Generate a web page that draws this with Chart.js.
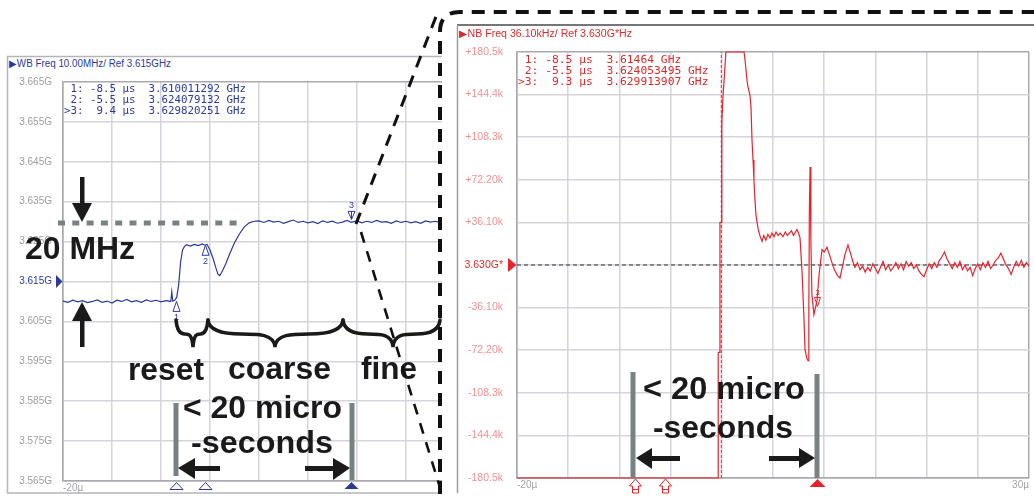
<!DOCTYPE html>
<html>
<head>
<meta charset="utf-8">
<script src="https://cdn.jsdelivr.net/npm/chart.js@4.4.1/dist/chart.umd.min.js"></script>
<style>
html, body { margin: 0; padding: 0; background: #fff; }
#stage { position: relative; width: 1034px; height: 502px; overflow: hidden; background: #fff; }
#stage > * { position: absolute; left: 0; top: 0; }
.big { font-family: "Liberation Sans", Arial, sans-serif; font-weight: bold; font-size: 32px; fill: #1a1a1a; }
.mono { font-family: "DejaVu Sans Mono", monospace; white-space: pre; }
.hdr { font-family: "Liberation Sans", Arial, sans-serif; font-size: 10px; }
</style>
</head>
<body>
<div id="stage">
  <svg width="1034" height="502">
    <rect x="7.5" y="56.5" width="600" height="436.5" fill="none" stroke="#b4b4bc" stroke-width="1.5"/>
    <text class="hdr" x="9" y="67" fill="#2a3a9c" textLength="162" lengthAdjust="spacingAndGlyphs">▶WB Freq 10.00MHz/ Ref 3.615GHz</text>
  </svg>
  <canvas id="wb" width="556" height="502" style="width:556px;height:502px"></canvas>
  <svg width="1034" height="502">
    <text class="mono" x="64" y="92" font-size="10.8" fill="#2a3a9c"> 1: -8.5 µs  3.610011292 GHz</text>
    <text class="mono" x="64" y="103" font-size="10.8" fill="#2a3a9c"> 2: -5.5 µs  3.624079132 GHz</text>
    <text class="mono" x="64" y="114" font-size="10.8" fill="#2a3a9c">>3:  9.4 µs  3.629820251 GHz</text>
  </svg>
  <div style="left:442px;width:592px;height:502px;background:#fff"></div>
  <svg width="1034" height="502">
    <line x1="457" y1="25" x2="1034" y2="25" stroke="#767676" stroke-width="2"/>
    <line x1="457.5" y1="25" x2="457.5" y2="493" stroke="#9a9aa2" stroke-width="1.5"/>
    <text class="hdr" x="459" y="37" fill="#e02828" textLength="173" lengthAdjust="spacingAndGlyphs">▶NB Freq 36.10kHz/ Ref 3.630G*Hz</text>
  </svg>
  <canvas id="nb" width="574" height="502" style="left:460px;width:574px;height:502px"></canvas>
  <svg width="1034" height="502">
    <text class="mono" x="518" y="63" font-size="11.3" fill="#e02828"> 1: -8.5 µs  3.61464 GHz</text>
    <text class="mono" x="518" y="74" font-size="11.3" fill="#e02828"> 2: -5.5 µs  3.624053495 GHz</text>
    <text class="mono" x="518" y="85" font-size="11.3" fill="#e02828">>3:  9.3 µs  3.629913907 GHz</text>
  </svg>
  <svg id="overlay" width="1034" height="502"></svg>
</div>
<script>
// ---- wide-band panel: time (µs) vs frequency (MHz)
const WB_T = [
  -20, -19.5, -19, -18.5, -18, -17.5, -17, -16.5, -16, -15.5, -15, -14.5,
  -14, -13.5, -13, -12.5, -12, -11.5, -11, -10.5, -10, -9.5, -9.0,
  -8.9, -8.8, -8.6, -8.4, -8.2, -8.0, -7.8, -7.6, -7.4, -7.0, -6.6, -6.2, -5.8, -5.5,
  -5.3, -5.0, -4.7, -4.4, -4.2, -4.0, -3.8, -3.4, -3.0, -2.5, -2.0, -1.5, -1.0, -0.5,
  0, 0.5, 1, 1.5, 2, 2.5, 3, 3.5, 4, 4.5, 5, 5.5, 6, 6.5,
  7, 7.5, 8, 8.5, 9, 9.4, 10, 10.5, 11, 11.5, 12, 12.5, 13, 13.5,
  14, 14.5, 15, 15.5, 16, 16.5, 17, 17.5, 18, 18.5, 19, 19.5, 20
];
const WB_F = [
  3610.1, 3609.8, 3610.3, 3609.9, 3610.2, 3609.7, 3610.0, 3610.4, 3609.8, 3610.1, 3609.6, 3610.3,
  3610.0, 3610.5, 3609.9, 3610.2, 3609.8, 3610.4, 3610.0, 3610.3, 3609.9, 3610.2, 3610.0,
  3612.4, 3610.1, 3610.3, 3611.0, 3614.1, 3619.9, 3622.9, 3623.8, 3624.2, 3623.9, 3624.3, 3624.0, 3624.4, 3624.1,
  3624.3, 3622.9, 3620.9, 3618.4, 3616.9, 3616.5, 3617.3, 3619.4, 3621.9, 3624.7, 3626.9, 3628.7, 3629.7, 3630.1,
  3630.2, 3629.8, 3630.3, 3629.9, 3630.1, 3629.6, 3630.0, 3630.4, 3629.8, 3630.1, 3629.7, 3630.0, 3629.5, 3630.2,
  3629.8, 3630.1, 3629.6, 3629.9, 3630.3, 3629.8, 3630.2, 3629.7, 3630.1, 3629.8, 3630.3, 3629.9, 3630.0, 3629.6,
  3630.2, 3629.8, 3630.1, 3629.7, 3630.0, 3629.6, 3630.2, 3629.9, 3630.1, 3629.7, 3630.0, 3629.8, 3630.1
];
const WB_MARKER_T = [-8.5, -5.5, 9.4];
const WB_MARKER_F = [3610.011292, 3624.079132, 3629.820251];
const WB_REF = 3615;
const WB_Y_LABELS = ['3.565G', '3.575G', '3.585G', '3.595G', '3.605G', '3.615G', '3.625G', '3.635G', '3.645G', '3.655G', '3.665G'];

// ---- narrow-band panel: time (µs) vs offset from 3.630 GHz (kHz)
const NB_T = [
  -20, -0.37, -0.35, -0.2, -0.18, -0.05, 0.0, 0.1, 0.4, 2.17,
  2.27, 2.46, 2.56, 2.75, 2.85, 2.95, 3.05, 3.14, 3.24, 3.34, 3.54,
  3.75, 3.93, 4.1, 4.3, 4.5, 4.71, 4.9, 5.1, 5.3, 5.5, 5.7, 5.98,
  6.2, 6.4, 6.6, 6.8, 7.0, 7.2, 7.34, 7.5, 7.64,
  7.83, 8.0, 8.13, 8.3, 8.42, 8.5, 8.55, 8.62, 8.7, 8.8, 9.0, 9.1, 9.3, 9.5,
  9.79, 10.0, 10.27, 10.5, 10.76, 11.0, 11.3, 11.54, 11.8, 12.0, 12.32, 12.6, 12.8, 13.0,
  13.25, 13.5, 13.75, 14.0, 14.25, 14.5, 14.75, 15.0, 15.25, 15.5, 15.75, 16.0,
  16.25, 16.5, 16.75, 17.0, 17.25, 17.5, 17.75, 18.0, 18.25, 18.5, 18.75, 19.0,
  19.25, 19.5, 19.75, 20.0, 20.25, 20.5, 20.75, 21.0, 21.25, 21.5, 21.75, 22.0,
  22.25, 22.5, 22.75, 23.0, 23.25, 23.5, 23.75, 24.0, 24.25, 24.5, 24.75, 25.0,
  25.25, 25.5, 25.75, 26.0, 26.25, 26.5, 26.75, 27.0, 27.25, 27.5, 27.75, 28.0,
  28.25, 28.5, 28.75, 29.0, 29.25, 29.5, 29.75, 30.0
];
const NB_V = [
  -180.5, -180.5, -74, -74, 36, 36, 120, 140, 180.5, 180.5,
  173.7, 156.8, 150.8, 144, 134, 106, 89, 72, 55, 42, 31,
  24, 20, 25, 21, 26, 23, 27, 24, 28, 25, 27, 24,
  28, 25, 27, 29, 25, 28, 30, 27, 23,
  -5, -40, -72, -79, -81, -40, 45, 83, 20, -25, -42, -38, -30, -8,
  13, 11, 15, 9, 2, -4, -9, -11, -1, 8, 17, 9, 3, -2,
  2, -4, -1, -6, -2, -5, 1, -3, -7, -2, 3, -4,
  0, -5, -2, 2, -3, 1, -4, 3, -1, 2, -3, 0,
  -5, -8, -10, -4, 1, -3, 2, -2, 4, 7, 11, 5,
  1, -3, 2, -2, 3, -4, 0, -5, -2, -9, -3, 1,
  -4, 2, -2, 3, -3, 0, 4, 6, 10, 5, 0, -3,
  -8, -2, 3, -1, 4, -2, 2, -1
];
const NB_EDGE_T = [-0.05, -0.05];
const NB_EDGE_V = [-180.5, 180.5];
const NB_REF_T = [-20, 30];
const NB_REF_V = [0, 0];
const NB_MARKER_T = [-8.5, -5.5, 9.3];
const NB_Y_LABELS = ['-180.5k', '-144.4k', '-108.3k', '-72.20k', '-36.10k', '3.630G*', '+36.10k', '+72.20k', '+108.3k', '+144.4k', '+180.5k'];

const X_LABELS = ['-20µ', '', '', '', '', '', '', '', '', '', '30µ'];

const BLUE = '#2a3a9c', RED = '#e8222a';
const GRID = '#d4d4dc', EDGE = '#a9a9b1';

Chart.defaults.font.family = '"Liberation Sans", Arial, sans-serif';

function pts(ts, vs) { return ts.map((t, i) => ({ x: t, y: vs[i] })); }
function gridColor(c) { return (c.index === 0 || c.index === 10) ? EDGE : GRID; }

function tri(ctx, x, yApex, w, h, fill) {
  ctx.beginPath();
  ctx.moveTo(x, yApex);
  ctx.lineTo(x - w / 2, yApex + h);
  ctx.lineTo(x + w / 2, yApex + h);
  ctx.closePath();
  if (fill) ctx.fill(); else ctx.stroke();
}

function xScale(fixedHeight) {
  return {
    type: 'linear', min: -20, max: 30,
    ticks: { stepSize: 5, autoSkip: false, maxRotation: 0, align: 'inner', padding: 1,
             color: '#a4a4a4', font: { size: 10 }, callback: (v, i) => X_LABELS[i] },
    grid: { color: gridColor, lineWidth: 1.5, drawTicks: false },
    border: { color: EDGE, width: 1.5 },
    afterFit(s) { s.height = fixedHeight; }
  };
}

const wbMarkers = {
  id: 'wbMarkers',
  afterDraw(chart) {
    const { ctx, chartArea: a, scales: { x, y } } = chart;
    ctx.save();
    ctx.strokeStyle = BLUE; ctx.fillStyle = BLUE; ctx.lineWidth = 1;
    ctx.font = '9px "Liberation Sans"'; ctx.textAlign = 'center'; ctx.textBaseline = 'middle';
    WB_MARKER_T.forEach((t, i) => {
      const px = Math.round(x.getPixelForValue(t)) + 0.5;
      const py = y.getPixelForValue(WB_MARKER_F[i]);
      if (i < WB_MARKER_T.length - 1) {
        tri(ctx, px, py, 7, 10, false);
        ctx.fillText(String(i + 1), px, py + 16);
        tri(ctx, px, a.bottom + 1.5, 13, 7, false);
      } else {
        tri(ctx, px, py - 3, 7, -8, false);
        ctx.beginPath(); ctx.moveTo(px, py - 3); ctx.lineTo(px, py - 11); ctx.stroke();
        ctx.fillText(String(i + 1), px, py - 17);
        tri(ctx, px, a.bottom + 1, 14, 7, true);
      }
    });
    const ry = y.getPixelForValue(WB_REF);
    ctx.beginPath();
    ctx.moveTo(a.left - 7, ry - 6.5); ctx.lineTo(a.left - 0.5, ry); ctx.lineTo(a.left - 7, ry + 6.5);
    ctx.closePath(); ctx.fill();
    ctx.restore();
  }
};

const nbMarkers = {
  id: 'nbMarkers',
  afterDraw(chart) {
    const { ctx, chartArea: a, scales: { x, y } } = chart;
    ctx.save();
    ctx.strokeStyle = RED; ctx.fillStyle = RED; ctx.lineWidth = 1;
    ctx.font = '8px "Liberation Sans"'; ctx.textAlign = 'center'; ctx.textBaseline = 'middle';
    NB_MARKER_T.forEach((t, i) => {
      const px = Math.round(x.getPixelForValue(t)) + 0.5;
      const b = a.bottom;
      if (i < NB_MARKER_T.length - 1) {
        // marker below the screen: outlined up arrow
        ctx.beginPath();
        ctx.moveTo(px, b + 1); ctx.lineTo(px + 6, b + 8); ctx.lineTo(px + 3, b + 8);
        ctx.lineTo(px + 3, b + 15); ctx.lineTo(px - 3, b + 15); ctx.lineTo(px - 3, b + 8);
        ctx.lineTo(px - 6, b + 8); ctx.closePath(); ctx.stroke();
        ctx.beginPath(); ctx.moveTo(px - 3, b + 11.5); ctx.lineTo(px + 3, b + 11.5); ctx.stroke();
      } else {
        const py = y.getPixelForValue(NB_V[NB_T.indexOf(t)]);
        tri(ctx, px, py + 6, 6, -9, false);
        ctx.fillText(String(i + 1), px, py - 8);
        tri(ctx, px, b + 1, 16, 8, true);
      }
    });
    const ry = y.getPixelForValue(0);
    ctx.beginPath();
    ctx.moveTo(a.left - 9, ry - 7); ctx.lineTo(a.left - 0.5, ry); ctx.lineTo(a.left - 9, ry + 7);
    ctx.closePath(); ctx.fill();
    ctx.restore();
  }
};

new Chart(document.getElementById('wb'), {
  type: 'line',
  data: {
    datasets: [{
      data: pts(WB_T, WB_F),
      borderColor: BLUE, borderWidth: 1.2, pointRadius: 0, tension: 0
    }]
  },
  options: {
    responsive: false, animation: false, devicePixelRatio: 1,
    layout: { padding: { top: 82, right: 3, left: 0, bottom: 0 } },
    plugins: { legend: { display: false }, tooltip: { enabled: false } },
    scales: {
      x: xScale(21),
      y: {
        min: 3565, max: 3665,
        ticks: { stepSize: 10, autoSkip: false, padding: 11, font: { size: 10 },
                 color: c => c.index === 5 ? BLUE : '#9c9c9c',
                 callback: (v, i) => WB_Y_LABELS[i] },
        grid: { color: gridColor, lineWidth: 1.5, drawTicks: false },
        border: { color: EDGE, width: 1.5 },
        afterFit(s) { s.width = 63; }
      }
    }
  },
  plugins: [wbMarkers]
});

new Chart(document.getElementById('nb'), {
  type: 'line',
  data: {
    datasets: [
      { data: pts(NB_T, NB_V), borderColor: RED, borderWidth: 1.2, pointRadius: 0, tension: 0, clip: false },
      { data: pts(NB_EDGE_T, NB_EDGE_V), borderColor: RED, borderWidth: 1, borderDash: [3, 2], pointRadius: 0 },
      { data: pts(NB_REF_T, NB_REF_V), borderColor: '#333', borderWidth: 1, borderDash: [4, 3], pointRadius: 0 }
    ]
  },
  options: {
    responsive: false, animation: false, devicePixelRatio: 1,
    layout: { padding: { top: 52, right: 5, left: 0, bottom: 0 } },
    plugins: { legend: { display: false }, tooltip: { enabled: false } },
    scales: {
      x: xScale(24),
      y: {
        min: -180.5, max: 180.5,
        ticks: { stepSize: 36.1, autoSkip: false, padding: 14, font: { size: 10.5 },
                 color: c => c.index === 5 ? '#e02828' : '#f29090',
                 callback: (v, i) => NB_Y_LABELS[i] },
        grid: { color: gridColor, lineWidth: 1.5, drawTicks: false },
        border: { color: EDGE, width: 1.5 },
        afterFit(s) { s.width = 57; }
      }
    }
  },
  plugins: [nbMarkers]
});

// ---- annotation overlay (arrows, braces, callout)
function brace(x1, x2, xm) {
  const y0 = 320, y1 = 334, y2 = 347;
  const a = (x1 + xm) / 2, b = (xm + x2) / 2, wl = (xm - x1) / 2, wr = (x2 - xm) / 2;
  return `M${x1} ${y0} C${x1 + 1} ${y1 - 3} ${a - wl * 0.5} ${y1} ${a} ${y1} ` +
         `C${a + wl * 0.5} ${y1} ${xm - 1} ${y1} ${xm} ${y2} ` +
         `C${xm + 1} ${y1} ${b - wr * 0.5} ${y1} ${b} ${y1} ` +
         `C${b + wr * 0.5} ${y1} ${x2 - 1} ${y1 - 3} ${x2} ${y0}`;
}
const K = '#1a1a1a', BAR = '#798282';
document.getElementById('overlay').innerHTML = `
  <line x1="58" y1="223" x2="242" y2="223" stroke="${BAR}" stroke-width="5" stroke-dasharray="7 7.3"/>
  <rect x="80" y="177" width="4.5" height="30" fill="${K}"/>
  <polygon points="72,203 92,203 82,222" fill="${K}"/>
  <polygon points="82,302 72,321 92,321" fill="${K}"/>
  <rect x="80" y="318" width="4.5" height="29" fill="${K}"/>
  <text class="big" x="25" y="259" textLength="110" lengthAdjust="spacingAndGlyphs">20 MHz</text>
  <path d="${brace(176, 208, 193)}" fill="none" stroke="${K}" stroke-width="3.5" stroke-linecap="round"/>
  <path d="${brace(208, 343, 275)}" fill="none" stroke="${K}" stroke-width="3.5" stroke-linecap="round"/>
  <path d="${brace(343, 440, 393)}" fill="none" stroke="${K}" stroke-width="3.5" stroke-linecap="round"/>
  <text class="big" x="128" y="380" textLength="76" lengthAdjust="spacingAndGlyphs">reset</text>
  <text class="big" x="228" y="379" textLength="103" lengthAdjust="spacingAndGlyphs">coarse</text>
  <text class="big" x="361" y="379" textLength="56" lengthAdjust="spacingAndGlyphs">fine</text>
  <text class="big" x="183" y="418" textLength="159" lengthAdjust="spacingAndGlyphs">&lt; 20 micro</text>
  <text class="big" x="191" y="453" textLength="142" lengthAdjust="spacingAndGlyphs">-seconds</text>
  <rect x="173.5" y="403" width="5" height="73" fill="${BAR}"/>
  <rect x="349.5" y="403" width="5" height="77" fill="${BAR}"/>
  <polygon points="178,468 195,458 195,479" fill="${K}"/>
  <rect x="193" y="466" width="27" height="5" fill="${K}"/>
  <polygon points="350,468 333,458 333,480" fill="${K}"/>
  <rect x="305" y="466" width="30" height="5" fill="${K}"/>
  <text class="big" x="643" y="399" textLength="162" lengthAdjust="spacingAndGlyphs">&lt; 20 micro</text>
  <text class="big" x="653" y="438" textLength="140" lengthAdjust="spacingAndGlyphs">-seconds</text>
  <rect x="630.5" y="372" width="5" height="106" fill="${BAR}"/>
  <rect x="814.5" y="374" width="5" height="104" fill="${BAR}"/>
  <polygon points="636,458 652,448 652,469" fill="${K}"/>
  <rect x="650" y="456" width="30" height="5" fill="${K}"/>
  <polygon points="815,458 799,448 799,468" fill="${K}"/>
  <rect x="769" y="456" width="32" height="5" fill="${K}"/>
  <path d="M440 494 L440 32 Q440 12 460 12 L1034 12" fill="none" stroke="#111" stroke-width="4" stroke-dasharray="13 9"/>
  <line x1="356" y1="224" x2="437" y2="14" stroke="#111" stroke-width="3" stroke-dasharray="12 9"/>
  <line x1="361" y1="232" x2="442" y2="494" stroke="#111" stroke-width="2.6" stroke-dasharray="11 9"/>
`;
</script>
</body>
</html>
